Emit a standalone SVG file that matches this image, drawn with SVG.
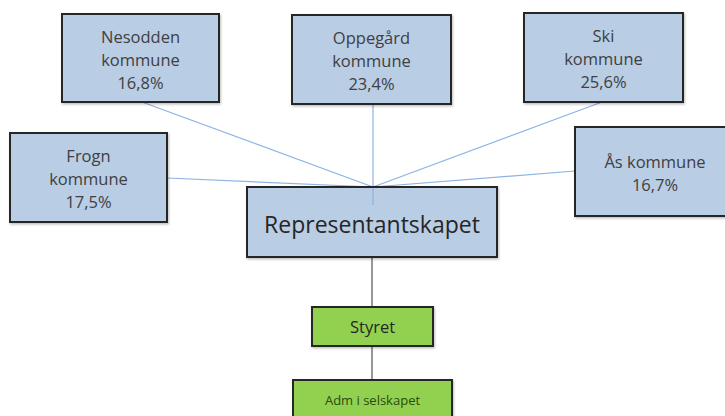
<svg xmlns="http://www.w3.org/2000/svg" width="725" height="416" viewBox="0 0 725 416">
<style>
.box{fill:#B9CDE5;stroke:#262626;stroke-width:2}
.g{fill:#92D050;stroke:#262626;stroke-width:2}
.t{font-family:"Open Sans","Liberation Sans",sans-serif;font-size:16.5px;fill:#404040;text-anchor:middle}
.big{font-family:"Open Sans","Liberation Sans",sans-serif;font-size:23px;fill:#262626;text-anchor:middle}
.s{font-family:"Open Sans","Liberation Sans",sans-serif;font-size:16.5px;fill:#262626;text-anchor:middle}
.a{font-family:"Open Sans","Liberation Sans",sans-serif;font-size:13px;fill:#2a4a10;text-anchor:middle}
.bl{stroke:#8DB3E2;stroke-width:1.2;fill:none}
.k{stroke:#333;stroke-width:1;fill:none}
</style>
<defs>
<filter id="sh" x="-5%" y="-5%" width="115%" height="120%"><feDropShadow dx="1" dy="1.5" stdDeviation="1" flood-color="#000" flood-opacity="0.25"/></filter>
</defs>
<g id="connectors">
<line class="bl" x1="142" y1="102" x2="373" y2="187"/>
<line class="bl" x1="373" y1="104" x2="373" y2="205"/>
<line class="bl" x1="602" y1="102" x2="373" y2="187"/>
<line class="bl" x1="167" y1="178" x2="373" y2="187"/>
<line class="bl" x1="575" y1="171" x2="373" y2="187"/>
<line class="k" x1="372" y1="257" x2="372" y2="307"/>
<line class="k" x1="372" y1="346" x2="372" y2="380"/>
</g>
<g id="nesodden">
<rect class="box" filter="url(#sh)" x="62" y="14" width="157" height="88"/>
<text class="t" x="140.5" y="43">Nesodden</text>
<text class="t" x="140.5" y="66">kommune</text>
<text class="t" x="140.5" y="89">16,8%</text>
</g>
<g id="oppegard">
<rect class="box" filter="url(#sh)" x="292" y="15" width="159" height="89"/>
<text class="t" x="371.5" y="44">Oppegård</text>
<text class="t" x="371.5" y="67">kommune</text>
<text class="t" x="371.5" y="90">23,4%</text>
</g>
<g id="ski">
<rect class="box" filter="url(#sh)" x="524" y="13" width="159" height="89"/>
<text class="t" x="603.5" y="42">Ski</text>
<text class="t" x="603.5" y="65">kommune</text>
<text class="t" x="603.5" y="88">25,6%</text>
</g>
<g id="frogn">
<rect class="box" filter="url(#sh)" x="10" y="133" width="157" height="89"/>
<text class="t" x="88.5" y="162">Frogn</text>
<text class="t" x="88.5" y="185">kommune</text>
<text class="t" x="88.5" y="208">17,5%</text>
</g>
<g id="as">
<rect class="box" filter="url(#sh)" x="575" y="127" width="160" height="89"/>
<text class="t" x="655" y="168">Ås kommune</text>
<text class="t" x="655" y="191">16,7%</text>
</g>
<g id="representantskapet">
<rect class="box" filter="url(#sh)" x="247" y="187" width="250" height="70"/>
<line class="bl" x1="373" y1="188" x2="373" y2="205"/>
<text class="big" x="372" y="233">Representantskapet</text>
</g>
<g id="styret">
<rect class="g" filter="url(#sh)" x="312" y="307" width="121" height="39"/>
<text class="s" x="372.5" y="333">Styret</text>
</g>
<g id="adm">
<rect class="g" filter="url(#sh)" x="293" y="380" width="159" height="45"/>
<text class="a" x="372.5" y="405">Adm i selskapet</text>
</g>
</svg>
